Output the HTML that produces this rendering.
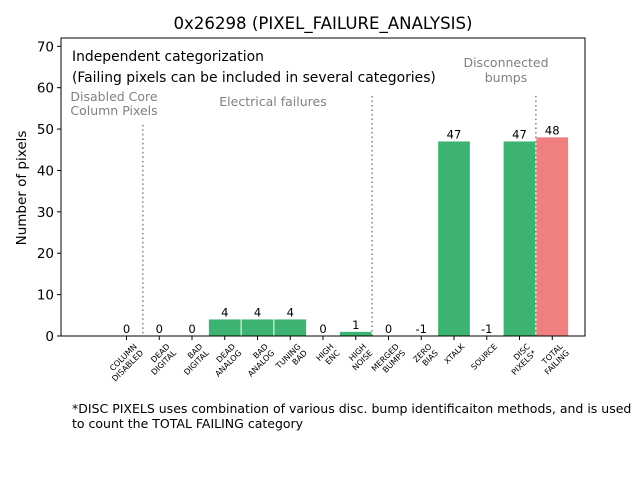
<!DOCTYPE html>
<html><head><meta charset="utf-8"><style>
body{margin:0;background:#fff;}
svg text{font-family:"DejaVu Sans","Liberation Sans",sans-serif;}
</style></head><body>
<svg id="chart" width="640" height="480" xmlns="http://www.w3.org/2000/svg">
<rect width="640" height="480" fill="#fff"/>
<text x="323" y="29" font-size="16.6" text-anchor="middle">0x26298 (PIXEL_FAILURE_ANALYSIS)</text>
<g id="bars"></g><g id="ticks"></g>
<rect x="61" y="38" width="524" height="298" fill="none" stroke="#000" stroke-width="1"/>
<text transform="translate(26,188) rotate(-90)" font-size="13.5" text-anchor="middle">Number of pixels</text>
<text x="72" y="61" font-size="13.9">Independent categorization</text>
<text x="72" y="82" font-size="13.9">(Failing pixels can be included in several categories)</text>
<g fill="#808080" font-size="12.5" text-anchor="middle">
<text x="114" y="101">Disabled Core</text>
<text x="114" y="115">Column Pixels</text>
<text x="273" y="106">Electrical failures</text>
<text x="506" y="67">Disconnected</text>
<text x="506" y="82">bumps</text>
</g>
<text x="72" y="413" font-size="12.5">*DISC PIXELS uses combination of various disc. bump identificaiton methods, and is used</text>
<text x="72" y="428" font-size="12.5">to count the TOTAL FAILING category</text>
</svg>
<script>
const categories=[["COLUMN","DISABLED"],["DEAD","DIGITAL"],["BAD","DIGITAL"],["DEAD","ANALOG"],["BAD","ANALOG"],["TUNING","BAD"],["HIGH","ENC"],["HIGH","NOISE"],["MERGED","BUMPS"],["ZERO","BIAS"],["XTALK"],["SOURCE"],["DISC","PIXELS*"],["TOTAL","FAILING"]];
const values=[0,0,0,4,4,4,0,1,0,-1,47,-1,47,48];
const yTicks=[0,10,20,30,40,50,60,70];
const separators=[0.5,7.5,12.5];
const separatorTops=[51,58,58];
const NS="http://www.w3.org/2000/svg";
const L=61,R=585,T=38,B=336,xmin=-2,xmax=14,ymin=0,ymax=72;
const xs=i=>L+(i-xmin)/(xmax-xmin)*(R-L);
const ys=v=>B-(v-ymin)/(ymax-ymin)*(B-T);
const bars=document.getElementById('bars'),ticks=document.getElementById('ticks');
function mk(t,a,p){const e=document.createElementNS(NS,t);for(const k in a)e.setAttribute(k,a[k]);p.appendChild(e);return e;}
const bw=(xs(1)-xs(0))*0.97;
values.forEach((v,i)=>{
  const top=ys(Math.max(v,0));
  const r=mk('rect',{x:xs(i)-bw/2,y:top,width:bw,height:Math.max(0,B-top),fill:i===values.length-1?'#f08080':'#3cb371'},bars);
  
  
  const t=mk('text',{x:xs(i),y:ys(Math.max(v,0))-3,'font-size':11.5,'text-anchor':'middle'},bars);
  t.textContent=v;
  
  
  const tk=mk('line',{x1:xs(i),x2:xs(i),y1:B,y2:B+4,stroke:'#000'},ticks);
  
  
  const g=mk('text',{'font-size':8,'text-anchor':'end',transform:`translate(${xs(i)+11},${B+11}) rotate(-45)`},ticks);
  
  
  const lines=categories[i];
  lines.forEach((s,j)=>{const sp=mk('tspan',{x:0,y:j*9},g);sp.textContent=s;});
});
separators.forEach((s,k)=>{
  const l=mk('line',{x1:xs(s),x2:xs(s),y1:ys(separatorTops[k]),y2:B,stroke:'#808080','stroke-width':1.5,'stroke-dasharray':'1.5,3'},bars);
  
  
});
yTicks.forEach(v=>{
  const l=mk('line',{x1:L-4,x2:L,y1:ys(v),y2:ys(v),stroke:'#000'},ticks);
  
  
  const t=mk('text',{x:L-7,y:ys(v)+5,'font-size':13.5,'text-anchor':'end'},ticks);
  t.textContent=v;
  
  
});
</script>
</body></html>
